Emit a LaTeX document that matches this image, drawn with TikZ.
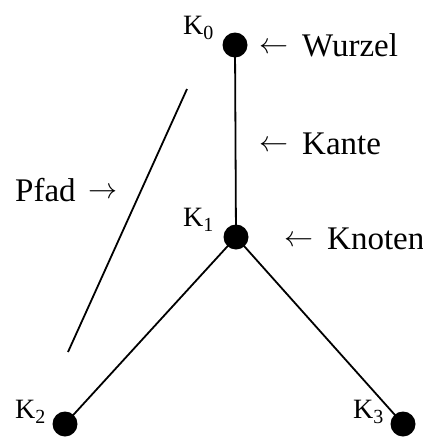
\documentclass[tikz,border=0pt]{standalone}
\usepackage{fontspec}
\setmainfont{Liberation Serif}
\begin{document}
\begin{tikzpicture}[x=1pt,y=-1pt,
  dot/.style={circle,fill=black,draw=none,minimum size=25pt,inner sep=0pt},
  edge/.style={line width=1.8pt},
  lbl/.style={anchor=base west,inner sep=0pt,font=\fontsize{33}{33}\selectfont},
  klbl/.style={anchor=base west,inner sep=0pt,font=\fontsize{28}{28}\selectfont}]
\useasboundingbox (0,0) rectangle (423,437);
\newcommand{\ksub}[1]{K\raisebox{-5pt}{\fontsize{20}{20}\selectfont #1}}
\newcommand{\larr}{\raisebox{3pt}{\resizebox{29pt}{!}{\normalsize$\leftarrow$}}\hspace{14pt}}
\newcommand{\rarr}{\hspace{13pt}\raisebox{3pt}{\resizebox{29pt}{!}{\normalsize$\rightarrow$}}}
% nodes
\node[dot] (k0) at (235,45) {};
\node[dot] (k1) at (236,237) {};
\node[dot] (k2) at (65,424) {};
\node[dot] (k3) at (403,424) {};
% edges
\draw[edge] (k0.center) -- (k1.center);
\draw[edge] (k1.center) -- (k2.center);
\draw[edge] (k1.center) -- (k3.center);
% path line
\coordinate (p1) at (187,89);
\coordinate (p2) at (68,352);
\draw[edge] (p1) -- (p2);
% labels
\node[klbl] (l0) at (183,34) {\ksub{0}};
\node[klbl] (l1) at (183,226) {\ksub{1}};
\node[klbl] (l2) at (15,418) {\ksub{2}};
\node[klbl] (l3) at (353,418) {\ksub{3}};
\node[lbl] (w) at (259,56) {\larr{}Wurzel};
\node[lbl] (ka) at (259,154) {\larr{}Kante};
\node[lbl] (kn) at (284,249) {\larr{}Knoten};
\node[lbl] (pf) at (15,201) {Pfad\rarr};
\end{tikzpicture}
\end{document}
